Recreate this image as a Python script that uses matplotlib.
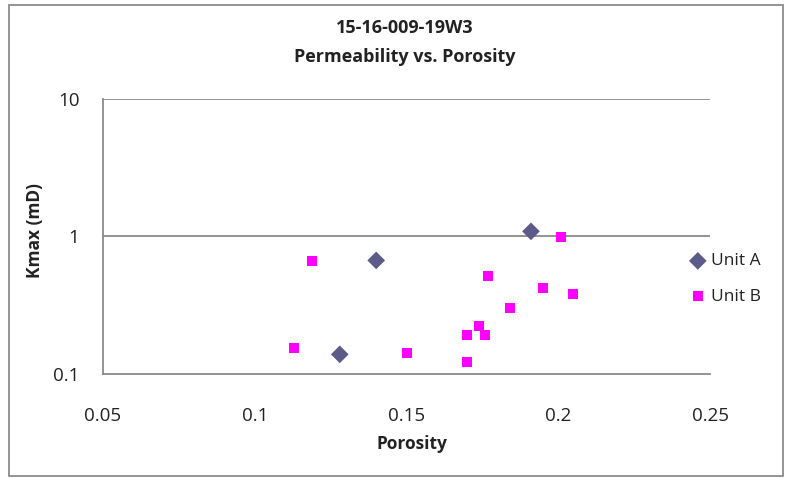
import numpy as np
import matplotlib
matplotlib.use('Agg')
import matplotlib.pyplot as plt
from matplotlib.patches import Rectangle

### Data
poro_a = [0.128, 0.140, 0.191]
kmax_a = [0.139, 0.67, 1.09]

poro_b = [0.113, 0.119, 0.150, 0.170, 0.170, 0.174, 0.176, 0.177,
          0.184, 0.195, 0.201, 0.205]
kmax_b = [0.154, 0.665, 0.141, 0.122, 0.193, 0.224, 0.193, 0.519,
          0.303, 0.424, 0.985, 0.379]

xticks = [0.05, 0.1, 0.15, 0.2, 0.25]
xticklabels = ['0.05', '0.1', '0.15', '0.2', '0.25']
yticks = [0.1, 1, 10]
yticklabels = ['0.1', '1', '10']

plt.rcParams['font.family'] = ['Open Sans', 'DejaVu Sans']

fig = plt.figure(figsize=(7.9, 4.8), dpi=100)
ax = fig.add_axes([0.1304, 0.2208, 0.7684, 0.573])

### Outer chart border
fig.patches.append(Rectangle((9/790, 1-476/480), 774/790, 471/480,
                             transform=fig.transFigure, fill=False,
                             edgecolor='#8c8c8c', linewidth=1.3))

ax.set_yscale('log')
ax.set_xlim(0.05, 0.25)
ax.set_ylim(0.1, 10)

for yv in [1, 10]:
    ax.axhline(yv, color='#8a8a8a', linewidth=1.3, zorder=1)

ax.scatter(poro_a, kmax_a, marker='D', s=9.0**2, color='#5c5a88',
           edgecolors='none', zorder=3, label='Unit A')
ax.scatter(poro_b, kmax_b, marker='s', s=7.2**2, color='#ff00ff',
           edgecolors='none', zorder=3, label='Unit B')

for side in ['top', 'right']:
    ax.spines[side].set_visible(False)
for side in ['left', 'bottom']:
    ax.spines[side].set_color('#8a8a8a')
    ax.spines[side].set_linewidth(1.3)

ax.set_xticks(xticks)
ax.set_xticklabels(xticklabels, fontsize=13.5, color='#222222')
ax.set_yticks(yticks)
ax.set_yticklabels(yticklabels, fontsize=13.5, color='#222222')
ax.yaxis.set_minor_locator(matplotlib.ticker.NullLocator())
ax.tick_params(axis='both', length=0)
ax.tick_params(axis='y', pad=17)
ax.tick_params(axis='x', pad=24)

fig.text(0.512, 1-28/480, '15-16-009-19W3', ha='center', va='center',
         fontsize=13, fontweight='bold', color='#222222')
fig.text(0.512, 1-57/480, 'Permeability vs. Porosity', ha='center',
         va='center', fontsize=13, fontweight='bold', color='#222222')
fig.text(35/790, 1-230/480, 'Kmax (mD)', rotation=90, ha='center',
         va='center', fontsize=12.5, fontweight='bold', color='#222222')
fig.text(412/790, 1-444/480, 'Porosity', ha='center', va='center',
         fontsize=12.5, fontweight='bold', color='#222222')

leg = fig.legend(loc='center left', bbox_to_anchor=(690/790, 1-279/480),
                 frameon=False, fontsize=12.5, borderpad=0,
                 borderaxespad=0, handlelength=0.9, handletextpad=0.3,
                 labelspacing=1.1, scatterpoints=1)
for t in leg.get_texts():
    t.set_color('#222222')

plt.savefig('out.png', dpi=100)
